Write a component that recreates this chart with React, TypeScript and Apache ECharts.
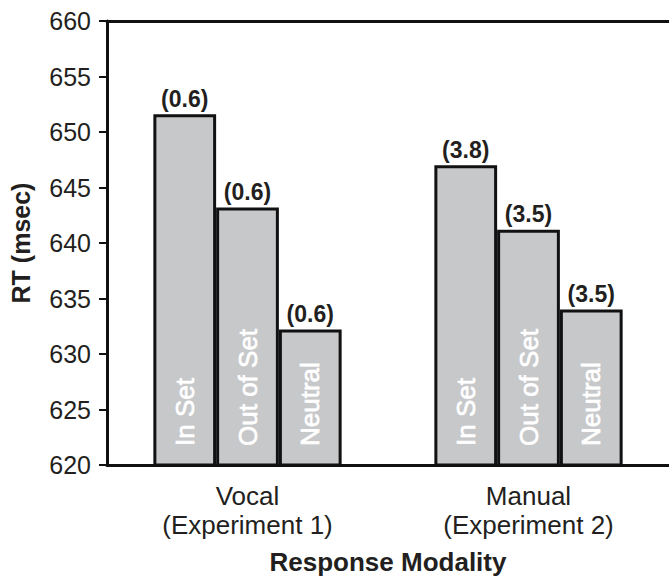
import React, { useEffect, useRef } from "react";
import * as echarts from "echarts";

const categories = ["Vocal\n(Experiment 1)", "Manual\n(Experiment 2)"];
const conditions = ["In Set", "Out of Set", "Neutral"];
const inSetRT = [651.6, 647.0];
const outOfSetRT = [643.2, 641.2];
const neutralRT = [632.2, 634.0];
const inSetSE = ["0.6", "3.8"];
const outOfSetSE = ["0.6", "3.5"];
const neutralSE = ["0.6", "3.5"];

const FONT = "'Liberation Sans', Arial, Helvetica, sans-serif";
const TEXT = "#231f20";
const FILL = "#c7c8ca";

export default function App() {
  const ref = useRef<HTMLDivElement>(null);
  useEffect(() => {
    document.body.style.margin = "0";
    const chart = echarts.init(ref.current!, null, { renderer: "svg" });
    const values = [inSetRT, outOfSetRT, neutralRT];
    const ses = [inSetSE, outOfSetSE, neutralSE];
    const mainSeries = values.map((v, i) => ({
      type: "bar",
      name: conditions[i],
      xAxisIndex: 0,
      yAxisIndex: 0,
      data: v,
      barGap: "0%",
      barCategoryGap: "33%",
      itemStyle: { color: FILL, borderColor: "#111", borderWidth: 3 },
      label: {
        show: true,
        position: "top",
        distance: 4,
        formatter: (p: any) => "(" + ses[i][p.dataIndex] + ")",
        fontFamily: FONT,
        fontWeight: "bold",
        fontSize: 23,
        color: TEXT,
      },
      z: 2,
    }));
    const nameSeries = values.map((v, i) => ({
      type: "bar",
      name: conditions[i] + " label",
      xAxisIndex: 1,
      yAxisIndex: 0,
      data: v,
      barGap: "0%",
      barCategoryGap: "33%",
      itemStyle: { color: "rgba(0,0,0,0)", borderWidth: 0 },
      label: {
        show: true,
        position: "insideBottom",
        rotate: 90,
        align: "left",
        verticalAlign: "middle",
        distance: 19,
        formatter: () => conditions[i],
        fontFamily: FONT,
        fontSize: 26,
        color: "#ffffff",
        textBorderColor: "#ffffff",
        textBorderWidth: 0.7,
      },
      z: 3,
      silent: true,
    }));
    chart.setOption({
      animation: false,
      grid: { left: 107, top: 21, bottom: 111, width: 571 },
      xAxis: [
        {
          type: "category",
          data: categories,
          position: "bottom",
          axisLine: { show: true, lineStyle: { color: "#111", width: 3 } },
          axisTick: { show: false },
          axisLabel: {
            fontFamily: FONT,
            fontSize: 26,
            lineHeight: 29,
            color: TEXT,
            margin: 16,
          },
          name: "Response Modality",
          nameLocation: "middle",
          nameGap: 84,
          nameTextStyle: {
            fontFamily: FONT,
            fontSize: 26,
            fontWeight: "bold",
            color: TEXT,
          },
        },
        {
          type: "category",
          data: categories,
          position: "top",
          axisLine: { show: true, lineStyle: { color: "#111", width: 3 } },
          axisTick: { show: false },
          axisLabel: { show: false },
        },
      ],
      yAxis: {
        type: "value",
        min: 620,
        max: 660,
        interval: 5,
        axisLine: { show: true, lineStyle: { color: "#111", width: 3 } },
        axisTick: { show: true, length: 8, lineStyle: { color: "#111", width: 2 } },
        splitLine: { show: false },
        axisLabel: {
          fontFamily: FONT,
          fontSize: 25,
          color: TEXT,
          margin: 16,
        },
        name: "RT (msec)",
        nameLocation: "middle",
        nameGap: 74,
        nameRotate: 90,
        nameTextStyle: {
          fontFamily: FONT,
          fontSize: 25,
          fontWeight: "bold",
          color: TEXT,
        },
      },
      series: [...mainSeries, ...nameSeries],
    });
    return () => chart.dispose();
  }, []);
  return <div ref={ref} style={{ width: 669, height: 580 }} />;
}
